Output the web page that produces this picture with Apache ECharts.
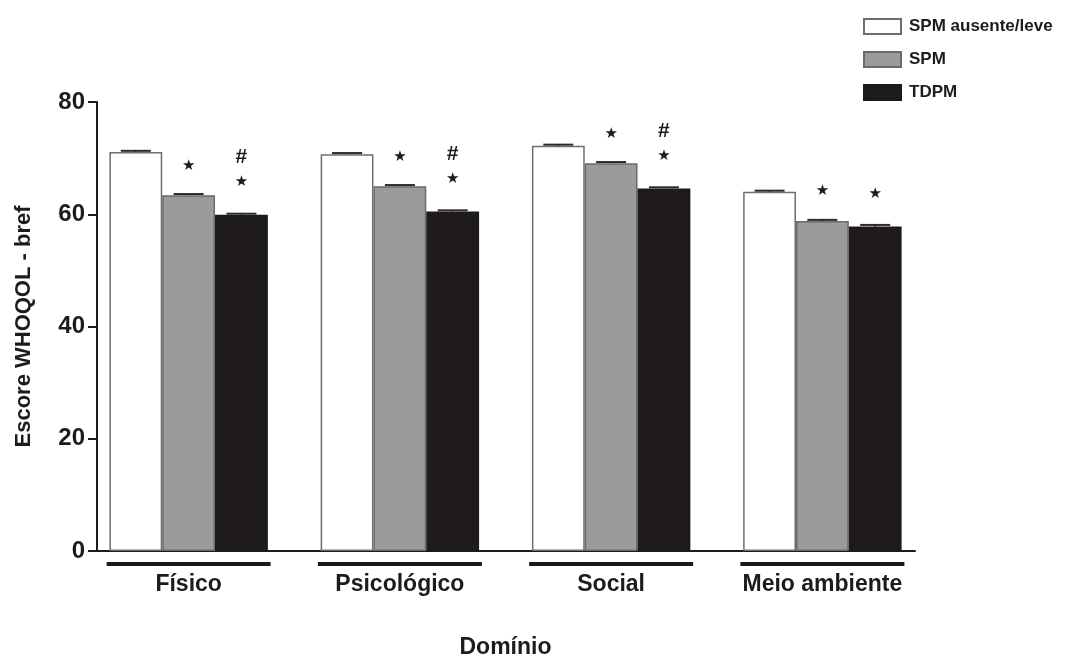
<!DOCTYPE html>
<html>
<head>
<meta charset="utf-8">
<script src="https://cdn.jsdelivr.net/npm/echarts@6/dist/echarts.min.js"></script>
<style>
html,body{margin:0;padding:0;background:#fff;}
#chart{width:1068px;height:655px;}
</style>
</head>
<body>
<div id="chart"></div>
<script>
const categories = ['Físico', 'Psicológico', 'Social', 'Meio ambiente'];
const seriesNames = ['SPM ausente/leve', 'SPM', 'TDPM'];
const valuesAusente = [71.1, 70.7, 72.2, 64.0];
const valuesSPM = [63.4, 65.0, 69.1, 58.8];
const valuesTDPM = [59.9, 60.5, 64.6, 57.8];
const errAusente = [0.2, 0.2, 0.2, 0.2];
const errSPM = [0.2, 0.2, 0.2, 0.2];
const errTDPM = [0.2, 0.2, 0.2, 0.3];
const marksSPM = ['*', '*', '*', '*'];
const marksTDPM = ['#*', '#*', '#*', '*'];
const yTicks = [0, 20, 40, 60, 80];

const FONT = 'Liberation Sans, Arial, sans-serif';
const INK = '#1c1c1c';
const barGapRatio = 0.25;

const allValues = [valuesAusente, valuesSPM, valuesTDPM];
const allErr = [errAusente, errSPM, errTDPM];
const allMarks = [null, marksSPM, marksTDPM];
const fills = ['#ffffff', '#9b9b9b', '#1f1b1b'];
const borders = ['#6e6e6e', '#6a6a6a', '#1a1a1a'];
const labelDist = [0, 17, 20];

function markFormatter(marks) {
  return function (p) {
    const m = marks[p.dataIndex] || '';
    const lines = [];
    if (m.indexOf('#') >= 0) lines.push('{h|#}');
    if (m.indexOf('*') >= 0) lines.push('{s|★}');
    return lines.join('\n');
  };
}

const series = [];
allValues.forEach(function (vals, k) {
  const s = {
    name: seriesNames[k],
    type: 'bar',
    xAxisIndex: 0,
    yAxisIndex: 0,
    data: vals,
    barGap: '0%',
    barCategoryGap: (barGapRatio * 100) + '%',
    itemStyle: { color: fills[k], borderColor: borders[k], borderWidth: 1.5 },
    emphasis: { disabled: true },
    z: 2
  };
  if (allMarks[k]) {
    s.label = {
      show: true,
      position: 'top',
      distance: labelDist[k],
      formatter: markFormatter(allMarks[k]),
      rich: {
        h: { fontFamily: FONT, fontWeight: 'bold', fontSize: 21, lineHeight: 25, color: INK },
        s: { fontFamily: 'DejaVu Sans, sans-serif', fontSize: 15, lineHeight: 25, color: INK }
      }
    };
  }
  series.push(s);
  series.push({
    type: 'custom',
    xAxisIndex: 0,
    yAxisIndex: 0,
    silent: true,
    z: 3,
    data: vals.map(function (v, i) { return [i, v, allErr[k][i]]; }),
    renderItem: function (params, api) {
      const i = api.value(0), v = api.value(1), e = api.value(2);
      const band = api.size([1, 0])[0];
      const bw = band * (1 - barGapRatio) / 3;
      const cx = api.coord([i, v])[0] + (k - 1) * bw;
      const yHi = api.coord([i, v + e])[1];
      const yLo = api.coord([i, v])[1];
      const cap = 15;
      const st = { stroke: '#2a2a2a', lineWidth: 2 };
      return {
        type: 'group',
        children: [
          { type: 'line', shape: { x1: cx, y1: yHi, x2: cx, y2: yLo }, style: st },
          { type: 'line', shape: { x1: cx - cap, y1: yHi, x2: cx + cap, y2: yHi }, style: st }
        ]
      };
    }
  });
});

const chart = echarts.init(document.getElementById('chart'));
chart.setOption({
  backgroundColor: '#ffffff',
  animation: false,
  legend: {
    orient: 'vertical',
    left: 858,
    top: 13,
    itemWidth: 37,
    itemHeight: 15,
    itemGap: 16,
    icon: 'rect',
    data: seriesNames,
    textStyle: { fontFamily: FONT, fontWeight: 'bold', fontSize: 17, color: INK, padding: [0, 0, 0, 3] }
  },
  grid: [
    { left: 83, right: 140, top: 102, bottom: 104, outerBoundsMode: 'none' },
    { left: 97, right: 153, top: 102, bottom: 104, outerBoundsMode: 'none' }
  ],
  xAxis: [
    {
      type: 'category',
      gridIndex: 0,
      data: categories,
      axisLine: { show: false },
      axisTick: { show: false },
      axisLabel: {
        margin: 11,
        interval: 0,
        formatter: function (v) { return '{u|}\n{t|' + v + '}'; },
        rich: {
          u: { width: 164, height: 4, lineHeight: 4, backgroundColor: '#1a1a1a' },
          t: { fontFamily: FONT, fontWeight: 'bold', fontSize: 23, lineHeight: 38, color: INK }
        }
      },
      name: 'Domínio',
      nameLocation: 'middle',
      nameGap: 85,
      nameTextStyle: { fontFamily: FONT, fontWeight: 'bold', fontSize: 23, color: INK }
    },
    {
      type: 'value',
      gridIndex: 1,
      min: 0,
      max: 1,
      axisLine: { show: true, lineStyle: { color: INK, width: 2 } },
      axisTick: { show: false },
      axisLabel: { show: false },
      splitLine: { show: false }
    }
  ],
  yAxis: [
    {
      type: 'value',
      gridIndex: 0,
      min: yTicks[0],
      max: yTicks[yTicks.length - 1],
      interval: yTicks[1] - yTicks[0],
      offset: -14,
      axisLine: { show: true, lineStyle: { color: INK, width: 2 } },
      axisTick: { show: true, length: 9, lineStyle: { color: INK, width: 2 } },
      axisLabel: { margin: 12, fontFamily: FONT, fontWeight: 'bold', fontSize: 24, color: INK },
      splitLine: { show: false },
      name: 'Escore WHOQOL - bref',
      nameLocation: 'middle',
      nameGap: 62,
      nameTextStyle: { fontFamily: FONT, fontWeight: 'bold', fontSize: 22, color: INK }
    },
    {
      type: 'value',
      gridIndex: 1,
      show: false
    }
  ],
  series: series
});
</script>
</body>
</html>
